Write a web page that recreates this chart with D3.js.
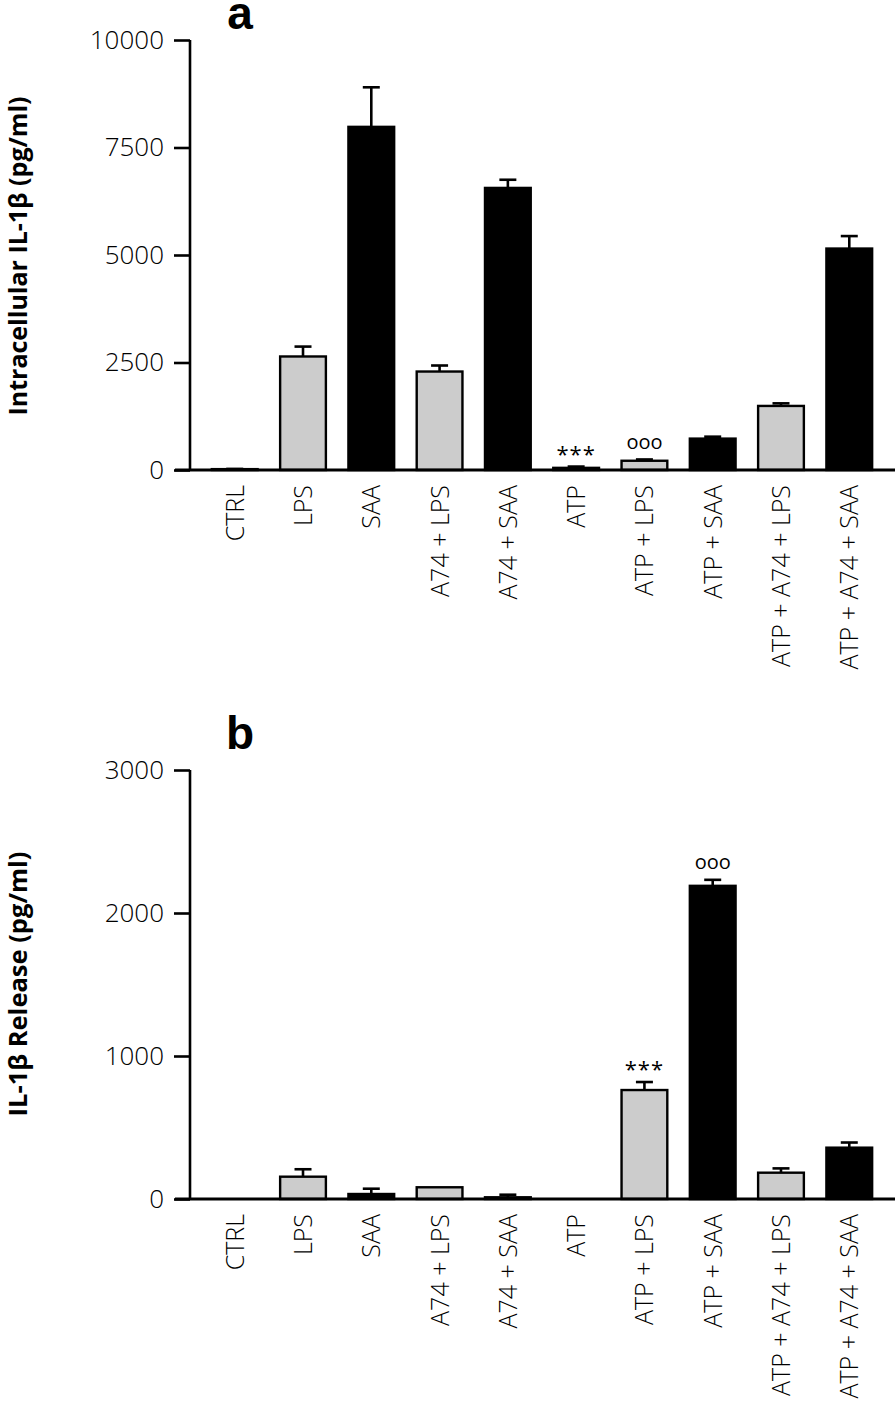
<!DOCTYPE html>
<html><head><meta charset="utf-8">
<script src="https://cdn.jsdelivr.net/npm/d3@7"></script>
<style>
html,body{margin:0;padding:0;background:#fff;}
svg{display:block;}
</style></head>
<body>
<svg id="chart" width="896" height="1404"></svg>
<script>
// ---- data ----
const categories = ["CTRL","LPS","SAA","A74 + LPS","A74 + SAA","ATP","ATP + LPS","ATP + SAA","ATP + A74 + LPS","ATP + A74 + SAA"];
const stimulus = ["none","LPS","SAA","LPS","SAA","none","LPS","SAA","LPS","SAA"];
const intracellularMean = [20, 2640, 7980, 2290, 6560, 50, 215, 730, 1490, 5150];
const intracellularSEM  = [5, 230, 920, 140, 190, 30, 30, 45, 60, 290];
const releaseMean = [0, 156, 35, 82, 12, 0, 762, 2190, 184, 359];
const releaseSEM  = [0, 52, 37, 0, 18, 0, 56, 42, 30, 36];
const ticksA = [0, 2500, 5000, 7500, 10000];
const ticksB = [0, 1000, 2000, 3000];
const annotA = [["ATP","***"],["ATP + LPS","ooo"]];
const annotB = [["ATP + LPS","***"],["ATP + SAA","ooo"]];

const fillFor = {none:"#cccccc", LPS:"#cccccc", SAA:"#000000"};
const svg = d3.select("#chart");

const x = d3.scaleBand().domain(categories).range([190, 894]).paddingInner(0.33).paddingOuter(0.32);

function panel(opt){
  const g = svg.append("g");
  const y = d3.scaleLinear().domain([0, opt.max]).range([opt.y0, opt.y1]);
  // y axis
  const ya = g.append("g").attr("transform","translate(190,0)")
    .call(d3.axisLeft(y).tickValues(opt.ticks).tickSize(16).tickPadding(10).tickFormat(d3.format("d")));
  ya.select(".domain").attr("stroke","#000").attr("stroke-width",2.6).attr("d",`M0,${opt.y1}V${opt.y0}`);
  ya.selectAll(".tick line").attr("stroke","#000").attr("stroke-width",2.6);
  ya.selectAll(".tick text").attr("font-family","'Open Sans', sans-serif").attr("font-weight",300)
    .attr("font-size",26).attr("fill","#000");
  // bars
  const data = categories.map((c,i)=>({c, m:opt.mean[i], e:opt.sem[i], s:stimulus[i]}));
  g.selectAll("rect.bar").data(data).join("rect").attr("class","bar")
    .attr("x",d=>x(d.c)).attr("width",x.bandwidth())
    .attr("y",d=>y(d.m)).attr("height",d=>Math.max(0,y(0)-y(d.m)))
    .attr("fill",d=>fillFor[d.s]).attr("stroke","#000").attr("stroke-width",2.4)
    .attr("display",d=>d.m>0?null:"none");
  // error bars (upward)
  const eb = g.selectAll("g.err").data(data.filter(d=>d.e>0)).join("g").attr("class","err");
  eb.append("line").attr("x1",d=>x(d.c)+x.bandwidth()/2).attr("x2",d=>x(d.c)+x.bandwidth()/2)
    .attr("y1",d=>y(d.m)).attr("y2",d=>y(d.m+d.e)).attr("stroke","#000").attr("stroke-width",2.6);
  eb.append("line").attr("x1",d=>x(d.c)+x.bandwidth()/2-8.5).attr("x2",d=>x(d.c)+x.bandwidth()/2+8.5)
    .attr("y1",d=>y(d.m+d.e)).attr("y2",d=>y(d.m+d.e)).attr("stroke","#000").attr("stroke-width",2.6);
  // x axis
  const xa = g.append("g").attr("transform",`translate(0,${opt.y0})`)
    .call(d3.axisBottom(x).tickSize(0).tickPadding(0));
  xa.select(".domain").remove();
  g.append("line").attr("x1",175).attr("x2",895).attr("y1",opt.y0).attr("y2",opt.y0)
    .attr("stroke","#000").attr("stroke-width",2.8);
  xa.selectAll(".tick text").attr("font-family","'Open Sans', sans-serif").attr("font-weight",300)
    .attr("font-size",25).attr("fill","#000")
    .attr("transform","rotate(-90)").attr("text-anchor","end").attr("dy","0.36em")
    .attr("x",-15).attr("y",0);
  // annotations
  opt.annot.forEach(([c,t])=>{
    const i = categories.indexOf(c);
    g.append("text").attr("x",x(c)+x.bandwidth()/2).attr("y",y(opt.mean[i]+opt.sem[i])-16)
      .attr("text-anchor","middle").attr("dominant-baseline","middle")
      .attr("font-family","'Open Sans', sans-serif").attr("font-weight",400)
      .attr("font-size",t==="***"?22:20).attr("letter-spacing",t==="***"?1:0).attr("fill","#000")
      .attr("dy",t==="***"?"0.25em":"0")
      .text(t);
  });
  // panel letter
  g.append("text").attr("x",240).attr("y",opt.letterY).attr("text-anchor","middle")
    .attr("font-family","'Liberation Sans', Arial, sans-serif").attr("font-weight",700)
    .attr("font-size",46).text(opt.letter);
  // y label
  g.append("text").attr("transform",`translate(27,${opt.labelY}) rotate(-90)`)
    .attr("text-anchor","middle")
    .attr("font-family","'Open Sans', sans-serif").attr("font-weight",700)
    .attr("font-size",opt.labelSize).text(opt.label);
}

panel({max:10000, y0:470, y1:40, ticks:ticksA, mean:intracellularMean, sem:intracellularSEM,
  annot:annotA, letter:"a", letterY:29, label:"Intracellular IL-1β (pg/ml)", labelY:256, labelSize:25});
panel({max:3000, y0:1199, y1:770, ticks:ticksB, mean:releaseMean, sem:releaseSEM,
  annot:annotB, letter:"b", letterY:749, label:"IL-1β Release (pg/ml)", labelY:984, labelSize:25.5});
</script>
</body></html>
